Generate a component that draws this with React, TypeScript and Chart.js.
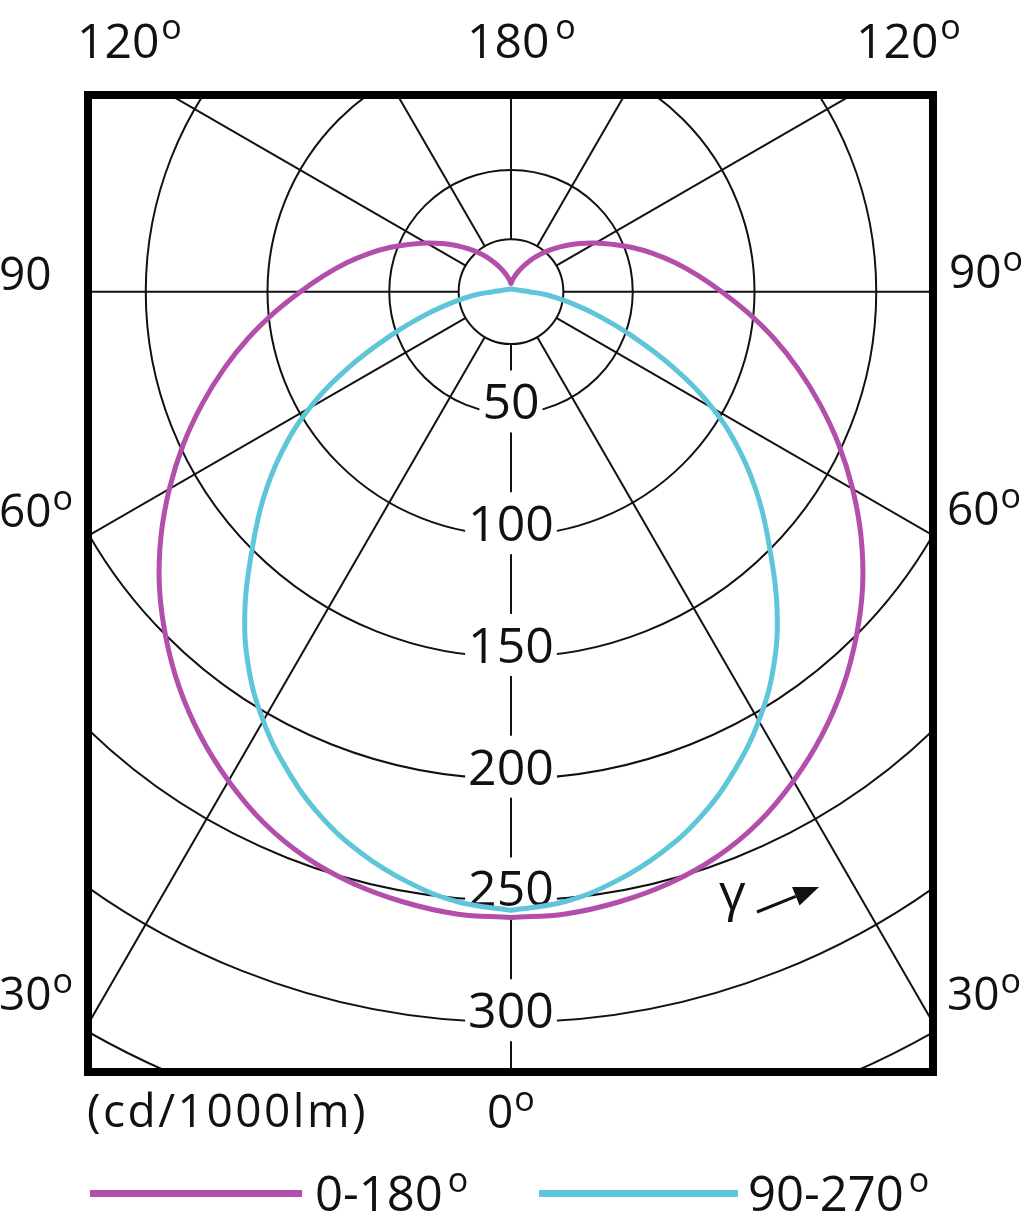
import React, { useEffect, useRef } from "react";
import { Chart, registerables } from "chart.js";

Chart.register(...registerables);

// ---- data ----
const GAMMA = [0, 5, 10, 15, 20, 25, 30, 35, 40, 45, 50, 55, 60, 65, 70, 75, 80, 85, 90, 95, 100, 105, 110, 115, 120, 125, 130, 135, 140, 145, 150, 155, 160, 165, 170, 175, 180];
const C0_180 = [257, 256.5, 254.5, 251.5, 247, 240.5, 232, 222.5, 212, 200.5, 188.5, 175.5, 162, 148.5, 135, 122, 109.5, 97.5, 86.5, 77, 68.5, 60.5, 53, 46, 40, 34.5, 29.5, 25, 21, 17.3, 14, 11.2, 8.9, 7, 5.5, 4.3, 3.5];
const C90_270 = [254, 251.5, 246, 238.5, 229, 217, 203.5, 188, 170, 150.5, 133, 115, 95.5, 73.5, 52.5, 36, 23.5, 14.5, 7.4, 4.7, 3.5, 2.8, 2.3, 2, 1.8, 1.6, 1.5, 1.4, 1.3, 1.25, 1.2, 1.15, 1.12, 1.1, 1.1, 1.1, 1.1];
const SERIES_LABELS = ["0-180", "90-270"];
const RING_VALUES = [50, 100, 150, 200, 250, 300, 350];
const RING_LABELS = ["50", "100", "150", "200", "250", "300"];
const RADIAL_ANGLES = [0, 30, 60, 90, 120, 150, 180];
const HUB_CD = 21.5;
const UNIT_LABEL = "(cd/1000lm)";
const TOP_LABELS = ["120", "180", "120"];
const LEFT_LABELS = ["90", "60", "30"];
const RIGHT_LABELS = ["90", "60", "30"];
const BOTTOM_LABEL = "0";
const GAMMA_SYMBOL = "γ";

// ---- layout ----
const W = 1024;
const H = 1221;
const CX_PX = 511;
const CY_PX = 291.7;
const PX_PER_CD = 2.435;
const BOX = { l: 88, t: 95, r: 933, b: 1072 };
const MAGENTA = "#b24fab";
const CYAN = "#5fc5d8";
const FONT = '"Open Sans", "Liberation Sans", sans-serif';

const rad = (d: number) => (d * Math.PI) / 180;

function halfCurve(values: number[], side: number) {
  return GAMMA.map((g, i) => ({
    x: side * values[i] * Math.sin(rad(g)),
    y: -values[i] * Math.cos(rad(g)),
  }));
}

function drawDeg(
  ctx: CanvasRenderingContext2D,
  text: string,
  x: number,
  baseline: number,
  size: number,
  gap: number,
  withDeg = true,
  oSize = 34
) {
  ctx.font = `${size}px ${FONT}`;
  ctx.textAlign = "left";
  ctx.textBaseline = "alphabetic";
  ctx.fillText(text, x, baseline);
  if (!withDeg) return;
  const w = ctx.measureText(text).width;
  const digitTop = baseline - 0.714 * size;
  ctx.font = `${oSize}px ${FONT}`;
  ctx.fillText("o", x + w + gap, digitTop - 3 + 0.545 * oSize);
}

const framePlugin = {
  id: "polarFrame",
  beforeDatasetsDraw(chart: any) {
    const ctx: CanvasRenderingContext2D = chart.ctx;
    const xs = chart.scales.x;
    const ys = chart.scales.y;
    const cx = xs.getPixelForValue(0);
    const cy = ys.getPixelForValue(0);
    const rpx = (v: number) => xs.getPixelForValue(v) - cx;

    ctx.save();
    ctx.beginPath();
    ctx.rect(BOX.l, BOX.t, BOX.r - BOX.l, BOX.b - BOX.t);
    ctx.clip();
    ctx.strokeStyle = "#111";
    ctx.lineWidth = 2;

    for (const v of RING_VALUES) {
      ctx.beginPath();
      ctx.arc(cx, cy, rpx(v), 0, Math.PI * 2);
      ctx.stroke();
    }
    ctx.beginPath();
    ctx.arc(cx, cy, rpx(HUB_CD), 0, Math.PI * 2);
    ctx.stroke();

    const FAR = 2000;
    for (const a of RADIAL_ANGLES) {
      for (const side of [-1, 1]) {
        if ((a === 0 || a === 180) && side === 1) continue;
        const g = rad(a);
        const x0 = xs.getPixelForValue(side * HUB_CD * Math.sin(g));
        const y0 = ys.getPixelForValue(-HUB_CD * Math.cos(g));
        const x1 = xs.getPixelForValue(side * FAR * Math.sin(g));
        const y1 = ys.getPixelForValue(-FAR * Math.cos(g));
        ctx.beginPath();
        ctx.moveTo(x0, y0);
        ctx.lineTo(x1, y1);
        ctx.stroke();
      }
    }

    // ring labels on the 0° axis
    ctx.font = `50px ${FONT}`;
    ctx.textAlign = "center";
    ctx.textBaseline = "alphabetic";
    RING_LABELS.forEach((lab, i) => {
      const y = ys.getPixelForValue(-RING_VALUES[i]);
      const base = y + 6;
      const mid = base - 18;
      const w = ctx.measureText(lab).width;
      ctx.fillStyle = "#fff";
      ctx.fillRect(cx - w / 2 - 3, mid - 31, w + 6, 62);
      ctx.fillStyle = "#111";
      ctx.fillText(lab, cx, base);
    });
    ctx.restore();
  },
  afterDatasetsDraw(chart: any) {
    const ctx: CanvasRenderingContext2D = chart.ctx;
    ctx.save();
    // frame
    ctx.strokeStyle = "#000";
    ctx.lineWidth = 8;
    ctx.strokeRect(BOX.l, BOX.t, BOX.r - BOX.l, BOX.b - BOX.t);

    ctx.fillStyle = "#111";
    // top labels
    drawDeg(ctx, TOP_LABELS[0], 77, 58, 48, 2);
    drawDeg(ctx, TOP_LABELS[1], 467, 58, 48, 6);
    drawDeg(ctx, TOP_LABELS[2], 856, 58, 48, 2);
    // left labels
    drawDeg(ctx, LEFT_LABELS[0], -1, 290, 46, 2, false);
    drawDeg(ctx, LEFT_LABELS[1], -1, 527, 46, 1);
    drawDeg(ctx, LEFT_LABELS[2], -1, 1010, 46, 1);
    // right labels
    drawDeg(ctx, RIGHT_LABELS[0], 949, 288, 46, 1);
    drawDeg(ctx, RIGHT_LABELS[1], 947, 525, 46, 1);
    drawDeg(ctx, RIGHT_LABELS[2], 947, 1010, 46, 1);
    // bottom
    drawDeg(ctx, BOTTOM_LABEL, 487, 1128, 46, 1);
    ctx.font = `46px ${FONT}`;
    (ctx as any).letterSpacing = "2.5px";
    ctx.fillText(UNIT_LABEL, 87, 1127);
    (ctx as any).letterSpacing = "0px";

    // gamma arrow
    ctx.font = `52px ${FONT}`;
    ctx.fillText(GAMMA_SYMBOL, 719, 910);
    const ax0 = 757, ay0 = 912, ax1 = 819, ay1 = 887;
    const ang = Math.atan2(ay1 - ay0, ax1 - ax0);
    const hl = 25, hw = 10;
    const bx = ax1 - hl * Math.cos(ang), by = ay1 - hl * Math.sin(ang);
    ctx.strokeStyle = "#111";
    ctx.lineWidth = 3;
    ctx.beginPath();
    ctx.moveTo(ax0, ay0);
    ctx.lineTo(bx, by);
    ctx.stroke();
    ctx.beginPath();
    ctx.moveTo(ax1, ay1);
    ctx.lineTo(bx + hw * Math.sin(ang), by - hw * Math.cos(ang));
    ctx.lineTo(bx - hw * Math.sin(ang), by + hw * Math.cos(ang));
    ctx.closePath();
    ctx.fill();

    // legend
    ctx.lineWidth = 7;
    ctx.strokeStyle = MAGENTA;
    ctx.beginPath();
    ctx.moveTo(90, 1193.5);
    ctx.lineTo(302, 1193.5);
    ctx.stroke();
    ctx.strokeStyle = CYAN;
    ctx.beginPath();
    ctx.moveTo(539, 1193.5);
    ctx.lineTo(738, 1193.5);
    ctx.stroke();
    ctx.fillStyle = "#111";
    drawDeg(ctx, SERIES_LABELS[0], 315, 1211, 49, 5);
    drawDeg(ctx, SERIES_LABELS[1], 748, 1211, 49, 5);
    ctx.restore();
  },
};

export default function App() {
  const ref = useRef<HTMLCanvasElement | null>(null);
  useEffect(() => {
    const canvas = ref.current;
    if (!canvas) return;
    const left = halfCurve(C0_180, -1);
    const right = halfCurve(C0_180, 1);
    const cyanLeft = halfCurve(C90_270, -1);
    const cyanRight = halfCurve(C90_270, 1).slice(0, -1).reverse();
    const common = {
      showLine: true,
      borderWidth: 5,
      pointRadius: 0,
      tension: 0.4,
      borderJoinStyle: "round",
      borderCapStyle: "round",
    };
    const chart = new Chart(canvas, {
      type: "scatter",
      data: {
        datasets: [
          { ...common, label: SERIES_LABELS[1], data: [...cyanLeft, ...cyanRight], borderColor: CYAN } as any,
          { ...common, label: SERIES_LABELS[0], data: left, borderColor: MAGENTA } as any,
          { ...common, label: SERIES_LABELS[0] + " ", data: right, borderColor: MAGENTA } as any,
        ],
      },
      options: {
        responsive: false,
        maintainAspectRatio: false,
        animation: false,
        events: [],
        layout: { padding: 0 },
        plugins: { legend: { display: false }, tooltip: { enabled: false } },
        scales: {
          x: { type: "linear", display: false, min: -CX_PX / PX_PER_CD, max: (W - CX_PX) / PX_PER_CD },
          y: { type: "linear", display: false, min: -(H - CY_PX) / PX_PER_CD, max: CY_PX / PX_PER_CD },
        },
      },
      plugins: [framePlugin],
    });
    return () => chart.destroy();
  }, []);
  return (
    <div style={{ position: "absolute", left: 0, top: 0, width: W, height: H, background: "#fff" }}>
      <canvas ref={ref} width={W} height={H} style={{ width: W, height: H, display: "block" }} />
    </div>
  );
}
